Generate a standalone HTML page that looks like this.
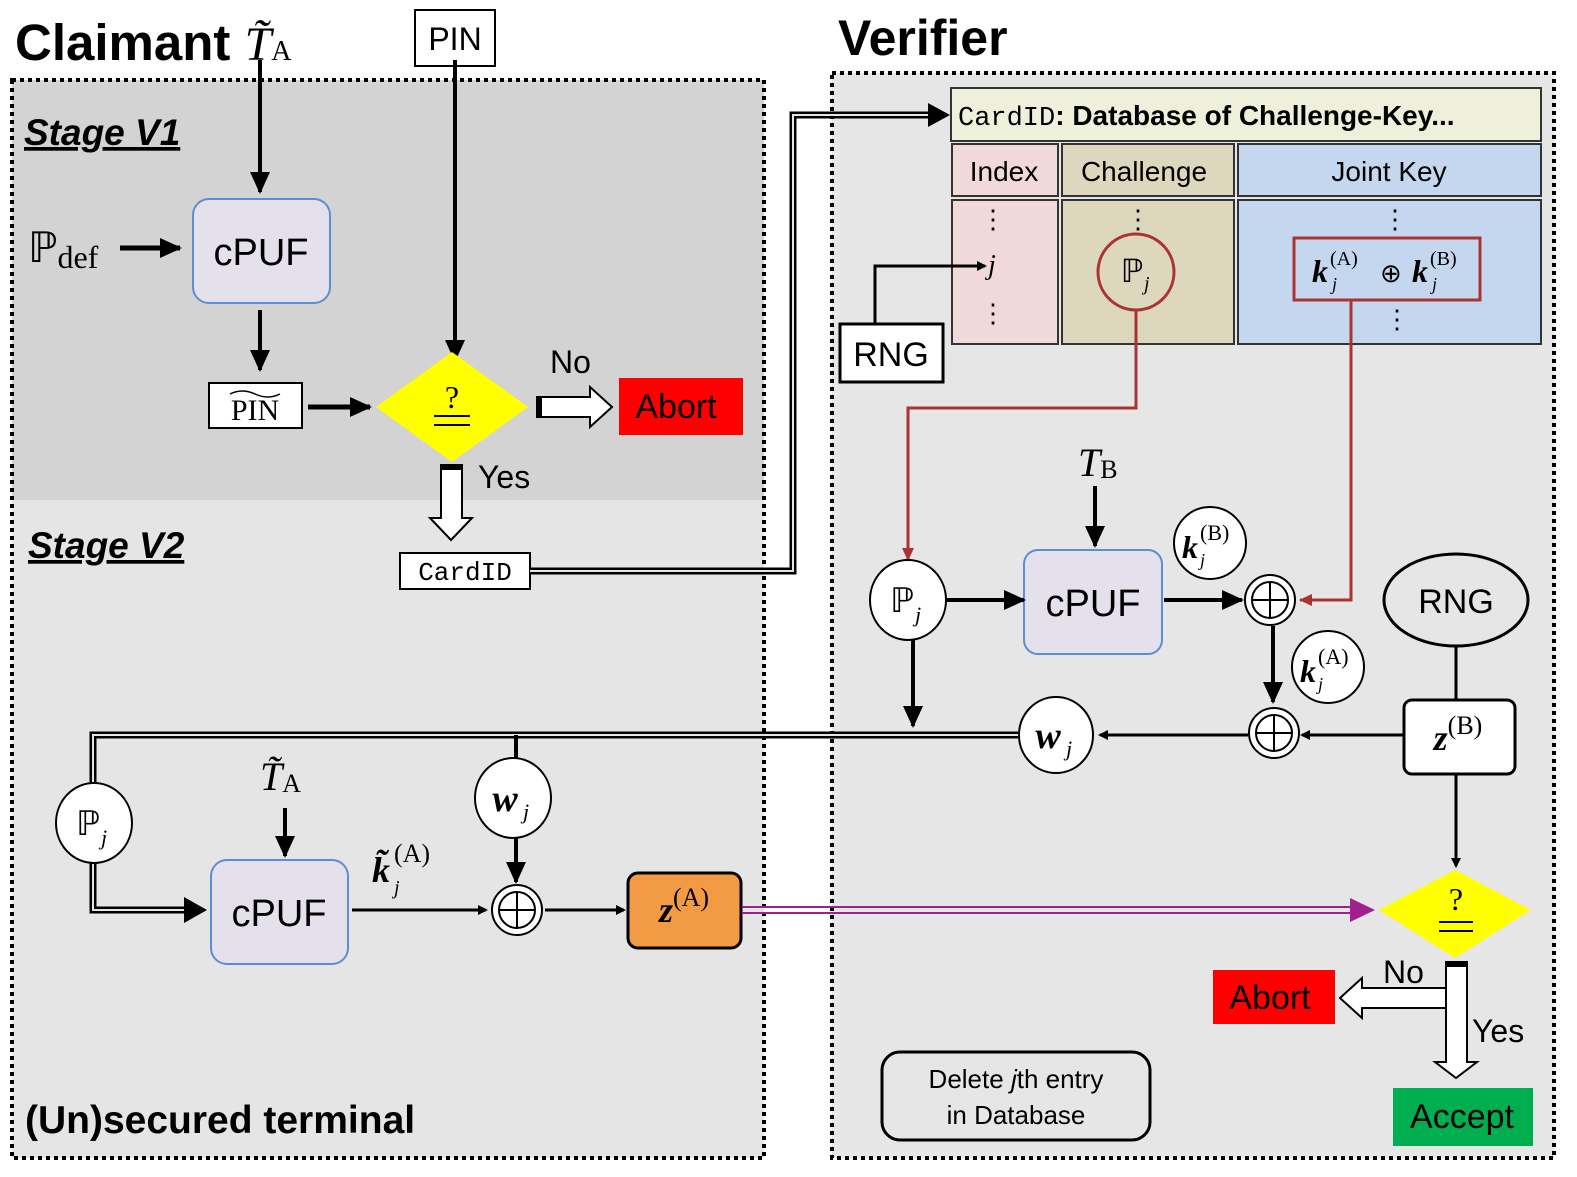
<!DOCTYPE html>
<html><head><meta charset="utf-8"><style>
html,body{margin:0;padding:0;background:#fff}
svg{display:block}
.s{font-family:"Liberation Sans",sans-serif}
.m{font-family:"Liberation Serif",serif}
.mono{font-family:"Liberation Mono",monospace}
</style></head><body>
<svg width="1577" height="1177" viewBox="0 0 1577 1177" xmlns="http://www.w3.org/2000/svg">
<defs>
<marker id="a" markerWidth="10" markerHeight="10" refX="8" refY="5" orient="auto" markerUnits="userSpaceOnUse"><path d="M0,0 L10,5 L0,10z" fill="#000"/></marker>
<marker id="ab" markerWidth="24" markerHeight="24" refX="20" refY="12" orient="auto" markerUnits="userSpaceOnUse"><path d="M0,2 L22,12 L0,22z" fill="#000"/></marker>
<marker id="ar" markerWidth="14" markerHeight="14" refX="12" refY="7" orient="auto" markerUnits="userSpaceOnUse"><path d="M0,1 L13,7 L0,13z" fill="#a33"/></marker>
</defs>
<!-- panels -->
<rect x="12" y="80" width="752" height="420" fill="#d3d3d3"/>
<rect x="12" y="500" width="752" height="658" fill="#e5e5e5"/>
<rect x="12" y="80" width="752" height="1078" fill="none" stroke="#000" stroke-width="4" stroke-dasharray="4 4"/>
<rect x="832" y="73" width="722" height="1085" fill="#e6e6e6" stroke="#000" stroke-width="4" stroke-dasharray="4 4"/>
<text x="15" y="60" class="s" font-weight="bold" font-size="51">Claimant <tspan class="m" font-style="italic" font-weight="normal" font-size="48">T̃</tspan><tspan class="m" font-weight="normal" font-size="28">A</tspan></text>
<text x="838" y="55" class="s" font-weight="bold" font-size="50">Verifier</text>
<!-- V1 -->
<rect x="415" y="10" width="80" height="56" fill="#fff" stroke="#000" stroke-width="2"/>
<text x="455" y="50" class="s" font-size="32" text-anchor="middle">PIN</text>
<line x1="455" y1="60" x2="455" y2="360" stroke="#000" stroke-width="4" marker-end="url(#ab)"/>
<line x1="260" y1="60" x2="260" y2="192" stroke="#000" stroke-width="4" marker-end="url(#ab)"/>
<text x="24" y="145" class="s" font-weight="bold" font-style="italic" font-size="37" text-decoration="underline">Stage V1</text>
<rect x="193" y="199" width="137" height="104" rx="16" fill="#e4e0ec" stroke="#5b8fd0" stroke-width="2"/>
<text x="261" y="265" class="s" font-size="38" text-anchor="middle">cPUF</text>
<text x="28" y="262" class="m" font-size="42">ℙ<tspan font-size="32" dy="6">def</tspan></text>
<line x1="120" y1="248" x2="180" y2="248" stroke="#000" stroke-width="5" marker-end="url(#ab)"/>
<line x1="260" y1="310" x2="260" y2="370" stroke="#000" stroke-width="4" marker-end="url(#ab)"/>
<rect x="209" y="383" width="93" height="45" fill="#fff" stroke="#000" stroke-width="2"/>
<text x="255" y="420" class="m" font-size="30" text-anchor="middle">PIN</text>
<path d="M230,394 q12,-6 25,0 t25,0" fill="none" stroke="#000" stroke-width="1.5"/>
<line x1="308" y1="407" x2="370" y2="407" stroke="#000" stroke-width="5" marker-end="url(#ab)"/>
<polygon points="376,407 452,352 528,407 452,462" fill="#ffff00"/>
<text x="452" y="408" class="m" font-size="32" text-anchor="middle">?</text>
<line x1="434" y1="416" x2="470" y2="416" stroke="#000" stroke-width="2"/>
<line x1="434" y1="425" x2="470" y2="425" stroke="#000" stroke-width="2"/>
<text x="550" y="373" class="s" font-size="32">No</text>
<polygon points="537,397 590,397 590,387 612,407 590,427 590,417 537,417" fill="#fff" stroke="#000" stroke-width="2"/>
<rect x="537" y="397" width="5" height="20" fill="#000"/>
<rect x="619" y="378" width="124" height="57" fill="#ff0000"/>
<text x="676" y="418" class="s" font-size="34" text-anchor="middle">Abort</text>
<polygon points="441,465 462,465 462,518 472,518 451,540 430,518 441,518" fill="#fff" stroke="#000" stroke-width="2"/>
<rect x="441" y="465" width="21" height="5" fill="#000"/>
<text x="478" y="488" class="s" font-size="32">Yes</text>
<text x="28" y="558" class="s" font-weight="bold" font-style="italic" font-size="37" text-decoration="underline">Stage V2</text>
<rect x="400" y="553" width="130" height="36" fill="#fff" stroke="#000" stroke-width="2"/>
<text x="465" y="580" class="mono" font-size="26" text-anchor="middle">CardID</text>
<polyline points="530,571 793,571 793,115 930,115" fill="none" stroke="#000" stroke-width="7"/>
<polyline points="530,571 793,571 793,115 930,115" fill="none" stroke="#e5e5e5" stroke-width="2"/>
<path d="M928,103 L950,115 L928,127z" fill="#000"/>
<!-- database -->
<rect x="951" y="88" width="590" height="53" fill="#eef0dc" stroke="#333" stroke-width="2"/>
<text x="958" y="125" class="mono" font-size="27">CardID<tspan class="s" font-weight="bold" font-size="28">: Database of Challenge-Key...</tspan></text>
<rect x="952" y="144" width="106" height="52" fill="#f1d9d9" stroke="#333" stroke-width="2"/>
<rect x="1062" y="144" width="172" height="52" fill="#ddd7bd" stroke="#333" stroke-width="2"/>
<rect x="1238" y="144" width="303" height="52" fill="#c5d7ee" stroke="#333" stroke-width="2"/>
<text x="1004" y="181" class="s" font-size="28" text-anchor="middle">Index</text>
<text x="1144" y="181" class="s" font-size="28" text-anchor="middle">Challenge</text>
<text x="1389" y="181" class="s" font-size="28" text-anchor="middle">Joint Key</text>
<rect x="952" y="200" width="106" height="144" fill="#f1d9d9" stroke="#333" stroke-width="2"/>
<rect x="1062" y="200" width="172" height="144" fill="#ddd7bd" stroke="#333" stroke-width="2"/>
<rect x="1238" y="200" width="303" height="144" fill="#c5d7ee" stroke="#333" stroke-width="2"/>
<text x="993" y="228" class="s" font-size="26" text-anchor="middle">⋮</text>
<text x="993" y="322" class="s" font-size="26" text-anchor="middle">⋮</text>
<text x="1138" y="228" class="s" font-size="26" text-anchor="middle">⋮</text>
<text x="1395" y="228" class="s" font-size="26" text-anchor="middle">⋮</text>
<text x="1397" y="328" class="s" font-size="26" text-anchor="middle">⋮</text>
<text x="988" y="274" class="m" font-style="italic" font-size="28">j</text>
<rect x="840" y="324" width="103" height="58" fill="#fff" stroke="#000" stroke-width="3"/>
<text x="891" y="366" class="s" font-size="34" text-anchor="middle">RNG</text>
<polyline points="875,324 875,266 985,266" fill="none" stroke="#000" stroke-width="3" marker-end="url(#a)"/>
<circle cx="1136" cy="272" r="38" fill="none" stroke="#a33" stroke-width="3"/>
<text x="1132" y="282" class="m" font-size="32" text-anchor="middle">ℙ</text><text x="1144" y="290" class="m" font-style="italic" font-size="20">j</text>
<rect x="1294" y="238" width="186" height="62" fill="none" stroke="#a33" stroke-width="3"/>
<text x="1312" y="282" class="m" font-size="32" font-weight="bold" font-style="italic">k</text>
<text x="1330" y="265" class="m" font-size="20">(A)</text><text x="1332" y="290" class="m" font-size="18" font-style="italic">j</text>
<text x="1380" y="282" class="m" font-size="26">⊕</text>
<text x="1412" y="282" class="m" font-size="32" font-weight="bold" font-style="italic">k</text>
<text x="1430" y="265" class="m" font-size="20">(B)</text><text x="1432" y="290" class="m" font-size="18" font-style="italic">j</text>
<polyline points="1136,310 1136,408 908,408 908,560" fill="none" stroke="#a33" stroke-width="3" marker-end="url(#ar)"/>
<polyline points="1351,300 1351,600 1300,600" fill="none" stroke="#a33" stroke-width="3" marker-end="url(#ar)"/>
<!-- verifier lower -->
<text x="1078" y="476" class="m" font-style="italic" font-size="40">T<tspan font-style="normal" font-size="26" dy="2">B</tspan></text>
<line x1="1095" y1="486" x2="1095" y2="546" stroke="#000" stroke-width="4" marker-end="url(#ab)"/>
<rect x="1024" y="550" width="138" height="104" rx="14" fill="#e4e0ec" stroke="#5b8fd0" stroke-width="2"/>
<text x="1093" y="616" class="s" font-size="38" text-anchor="middle">cPUF</text>
<ellipse cx="908" cy="600" rx="38" ry="40" fill="#fff" stroke="#000" stroke-width="2"/>
<text x="902" y="612" class="m" font-size="34" text-anchor="middle">ℙ</text><text x="915" y="622" class="m" font-style="italic" font-size="22">j</text>
<line x1="947" y1="600" x2="1024" y2="600" stroke="#000" stroke-width="4" marker-end="url(#ab)"/>
<line x1="1164" y1="600" x2="1242" y2="600" stroke="#000" stroke-width="4" marker-end="url(#ab)"/>
<g fill="#fff" stroke="#000" stroke-width="2"><circle cx="1270" cy="600" r="25"/><circle cx="1270" cy="600" r="18"/></g>
<path d="M1252,600h36M1270,582v36" stroke="#000" stroke-width="2"/>
<circle cx="1210" cy="543" r="36" fill="#fff" stroke="#000" stroke-width="2"/>
<text x="1182" y="558" class="m" font-size="32" font-weight="bold" font-style="italic">k</text>
<text x="1200" y="540" class="m" font-size="22">(B)</text><text x="1200" y="566" class="m" font-size="18" font-style="italic">j</text>
<ellipse cx="1456" cy="600" rx="72" ry="46" fill="#e6e6e6" stroke="#000" stroke-width="3"/>
<text x="1456" y="613" class="s" font-size="34" text-anchor="middle">RNG</text>
<line x1="1456" y1="646" x2="1456" y2="700" stroke="#000" stroke-width="3"/>
<rect x="1404" y="700" width="111" height="74" rx="8" fill="#fff" stroke="#000" stroke-width="3"/>
<text x="1458" y="750" class="m" font-size="36" text-anchor="middle" font-weight="bold" font-style="italic">z<tspan font-size="26" font-weight="normal" font-style="normal" dy="-16">(B)</tspan></text>
<line x1="1404" y1="735" x2="1302" y2="735" stroke="#000" stroke-width="3" marker-end="url(#a)"/>
<line x1="1273" y1="626" x2="1273" y2="702" stroke="#000" stroke-width="4" marker-end="url(#ab)"/>
<g fill="#fff" stroke="#000" stroke-width="2"><circle cx="1274" cy="733" r="25"/><circle cx="1274" cy="733" r="18"/></g>
<path d="M1256,733h36M1274,715v36" stroke="#000" stroke-width="2"/>
<circle cx="1328" cy="667" r="36" fill="#fff" stroke="#000" stroke-width="2"/>
<text x="1300" y="682" class="m" font-size="32" font-weight="bold" font-style="italic">k</text>
<text x="1318" y="664" class="m" font-size="22">(A)</text><text x="1318" y="690" class="m" font-size="18" font-style="italic">j</text>
<line x1="1248" y1="735" x2="1100" y2="735" stroke="#000" stroke-width="3" marker-end="url(#a)"/>
<line x1="913" y1="640" x2="913" y2="726" stroke="#000" stroke-width="4" marker-end="url(#ab)"/>
<!-- double line to claimant -->
<polyline points="1018,735 93,735 93,910 190,910" fill="none" stroke="#000" stroke-width="7"/>
<polyline points="1018,735 93,735 93,910 190,910" fill="none" stroke="#e5e5e5" stroke-width="2"/>
<path d="M184,897 L207,910 L184,923z" fill="#000"/>
<ellipse cx="1056" cy="735" rx="37" ry="38" fill="#fff" stroke="#000" stroke-width="2"/>
<text x="1048" y="748" class="m" font-size="38" text-anchor="middle" font-weight="bold" font-style="italic">w</text><text x="1066" y="756" class="m" font-size="22" font-style="italic">j</text>
<ellipse cx="94" cy="823" rx="38" ry="40" fill="#fff" stroke="#000" stroke-width="2"/>
<text x="88" y="835" class="m" font-size="34" text-anchor="middle">ℙ</text><text x="101" y="845" class="m" font-style="italic" font-size="22">j</text>
<line x1="516" y1="735" x2="516" y2="762" stroke="#000" stroke-width="4"/>
<ellipse cx="513" cy="798" rx="38" ry="40" fill="#fff" stroke="#000" stroke-width="2"/>
<text x="505" y="811" class="m" font-size="38" text-anchor="middle" font-weight="bold" font-style="italic">w</text><text x="523" y="819" class="m" font-size="22" font-style="italic">j</text>
<line x1="516" y1="838" x2="516" y2="882" stroke="#000" stroke-width="4" marker-end="url(#ab)"/>
<text x="260" y="790" class="m" font-style="italic" font-size="40">T̃<tspan font-style="normal" font-size="26" dy="2">A</tspan></text>
<line x1="285" y1="808" x2="285" y2="856" stroke="#000" stroke-width="4" marker-end="url(#ab)"/>
<rect x="211" y="860" width="137" height="104" rx="16" fill="#e4e0ec" stroke="#5b8fd0" stroke-width="2"/>
<text x="279" y="926" class="s" font-size="38" text-anchor="middle">cPUF</text>
<text x="372" y="882" class="m" font-size="36" font-weight="bold" font-style="italic">k̃</text>
<text x="394" y="862" class="m" font-size="26">(A)</text><text x="394" y="894" class="m" font-size="20" font-style="italic">j</text>
<line x1="352" y1="910" x2="486" y2="910" stroke="#000" stroke-width="3" marker-end="url(#a)"/>
<g fill="#fff" stroke="#000" stroke-width="2"><circle cx="517" cy="910" r="25"/><circle cx="517" cy="910" r="18"/></g>
<path d="M499,910h36M517,892v36" stroke="#000" stroke-width="2"/>
<line x1="545" y1="910" x2="624" y2="910" stroke="#000" stroke-width="3" marker-end="url(#a)"/>
<rect x="628" y="873" width="113" height="75" rx="10" fill="#f39a45" stroke="#000" stroke-width="3"/>
<text x="684" y="922" class="m" font-size="36" text-anchor="middle" font-weight="bold" font-style="italic">z<tspan font-size="26" font-weight="normal" font-style="normal" dy="-16">(A)</tspan></text>
<line x1="742" y1="907" x2="1355" y2="907" stroke="#a0208f" stroke-width="2"/>
<line x1="742" y1="913" x2="1355" y2="913" stroke="#a0208f" stroke-width="2"/>
<path d="M1350,898 L1375,910 L1350,922z" fill="#a0208f"/>
<polygon points="1379,910 1455,870 1531,910 1455,958" fill="#ffff00"/>
<text x="1456" y="910" class="m" font-size="32" text-anchor="middle">?</text>
<line x1="1439" y1="922" x2="1473" y2="922" stroke="#000" stroke-width="2"/>
<line x1="1439" y1="931" x2="1473" y2="931" stroke="#000" stroke-width="2"/>
<line x1="1456" y1="775" x2="1456" y2="866" stroke="#000" stroke-width="3" marker-end="url(#a)"/>
<polygon points="1446,962 1467,962 1467,1062 1477,1062 1456,1078 1435,1062 1446,1062" fill="#fff" stroke="#000" stroke-width="2"/>
<rect x="1446" y="962" width="21" height="5" fill="#000"/>
<polygon points="1446,988 1362,988 1362,978 1340,998 1362,1018 1362,1008 1446,1008" fill="#fff" stroke="#000" stroke-width="2"/>
<rect x="1213" y="970" width="122" height="54" fill="#ff0000"/>
<text x="1270" y="1009" class="s" font-size="34" text-anchor="middle">Abort</text>
<text x="1383" y="983" class="s" font-size="32">No</text>
<text x="1472" y="1042" class="s" font-size="32">Yes</text>
<rect x="1393" y="1088" width="140" height="58" fill="#00ad4f"/>
<text x="1462" y="1128" class="s" font-size="34" text-anchor="middle">Accept</text>
<rect x="882" y="1052" width="268" height="88" rx="18" fill="none" stroke="#000" stroke-width="3"/>
<text x="1016" y="1088" class="s" font-size="26" text-anchor="middle">Delete <tspan font-style="italic">j</tspan>th entry</text>
<text x="1016" y="1124" class="s" font-size="26" text-anchor="middle">in Database</text>
<text x="25" y="1133" class="s" font-weight="bold" font-size="39">(Un)secured terminal</text>
</svg>
</body></html>
